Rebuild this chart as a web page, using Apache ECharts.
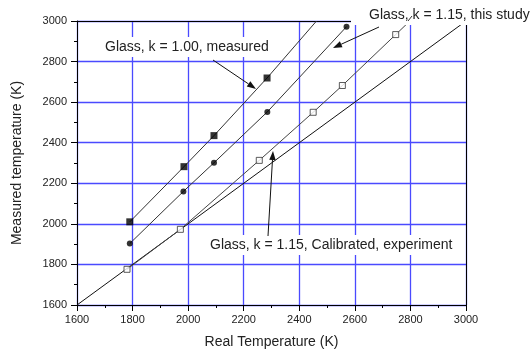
<!DOCTYPE html>
<html>
<head>
<meta charset="utf-8">
<script src="https://cdn.jsdelivr.net/npm/echarts@6/dist/echarts.min.js"></script>
<style>
  html, body { margin: 0; padding: 0; background: #fff; }
  #chart { width: 530px; height: 354px; }
</style>
</head>
<body>
<div id="chart"></div>
<script>
// 坐标轴范围
let axisMin = 1600;
let axisMax = 3000;
let axisStep = 200;

// Glass, k = 1.00, measured (实心方块)
let measuredX = [1790, 1985, 2093, 2284];
let measuredY = [2010, 2282, 2435, 2719];
let measuredLineX = [1790, 1985, 2093, 2284, 2462];
let measuredLineY = [2010, 2282, 2435, 2719, 3000];

// Glass, k = 1.15, this study (实心圆)
let studyX = [1790, 1983, 2093, 2285, 2570];
let studyY = [1903, 2160, 2301, 2552, 2972];

// Glass, k = 1.15, Calibrated, experiment (空心方块)
let calibX = [1780, 1972, 2256, 2450, 2555, 2747];
let calibY = [1776, 1973, 2313, 2550, 2682, 2933];
let calibLineX = [1780, 1972, 2256, 2450, 2555, 2747, 2798];
let calibLineY = [1776, 1973, 2313, 2550, 2682, 2933, 3000];

// y = x 参考线
let refX = [1600, 3000];
let refY = [1600, 3000];

function pairs(xs, ys) {
  return xs.map((x, i) => [x, ys[i]]);
}

// 箭头
function arrow(x1, y1, x2, y2) {
  let ang = Math.atan2(y2 - y1, x2 - x1);
  let len = 9, half = 3.2;
  let bx = x2 - len * Math.cos(ang), by = y2 - len * Math.sin(ang);
  let nx = -Math.sin(ang) * half, ny = Math.cos(ang) * half;
  return [
    {
      type: "line",
      z: 100,
      shape: { x1: x1, y1: y1, x2: bx, y2: by },
      style: { stroke: "#111", lineWidth: 1 },
    },
    {
      type: "polygon",
      z: 100,
      shape: { points: [[x2, y2], [bx + nx, by + ny], [bx - nx, by - ny]] },
      style: { fill: "#111" },
    },
  ];
}

function label(text, x, y) {
  return {
    type: "text",
    z: 99,
    x: x,
    y: y,
    style: {
      text: text,
      font: "14px 'Liberation Sans', Arial, sans-serif",
      fill: "#222",
      verticalAlign: "middle",
      backgroundColor: "#fff",
      padding: [3, 8, 3, 18],
    },
  };
}

let gridBlue = "#4a4aff";
let fontFamily = "'Liberation Sans', Arial, sans-serif";

let myChart = echarts.init(document.getElementById("chart"));

let baseAxis = {
  type: "value",
  min: axisMin,
  max: axisMax,
  interval: axisStep,
  axisLine: { show: true, lineStyle: { color: "#000", width: 1 } },
  axisTick: { show: true, length: 6, lineStyle: { color: "#000" } },
  minorTick: { show: true, splitNumber: 2, length: 3, lineStyle: { color: "#000" } },
  axisLabel: {
    color: "#222",
    fontSize: 11,
    fontFamily: fontFamily,
    formatter: (v) => String(v),
  },
  splitLine: {
    show: true,
    lineStyle: { color: gridBlue, width: 1.3 },
  },
  nameLocation: "middle",
  nameTextStyle: { color: "#222", fontSize: 14, fontFamily: fontFamily },
};

// 边框轴
let frameAxis = {
  type: "value",
  min: axisMin,
  max: axisMax,
  interval: axisStep,
  axisLine: { show: true, lineStyle: { color: "#000", width: 1 } },
  axisTick: { show: false },
  axisLabel: { show: false },
  splitLine: { show: false },
};

let graphics = [
  label("Glass, k = 1.00, measured", 87, 47),
  label("Glass, k = 1.15, this study", 351, 15),
  label("Glass, k = 1.15, Calibrated, experiment", 192, 245),
  {
    type: "line",
    z: 100,
    shape: { x1: 408, y1: 21, x2: 412, y2: 16 },
    style: { stroke: "#333", lineWidth: 1 },
  },
]
  .concat(arrow(213, 60, 256, 89))
  .concat(arrow(379, 27, 333, 48))
  .concat(arrow(268, 236, 273, 151));

myChart.setOption({
  animation: false,
  backgroundColor: "#fff",
  grid: { left: 77, right: 64, top: 21, bottom: 48 },
  xAxis: [
    Object.assign({}, baseAxis, {
      position: "bottom",
      name: "Real Temperature (K)",
      nameGap: 30,
      axisLabel: Object.assign({}, baseAxis.axisLabel, { margin: 9 }),
    }),
    Object.assign({}, frameAxis, { position: "top" }),
  ],
  yAxis: [
    Object.assign({}, baseAxis, {
      position: "left",
      name: "Measured temperature (K)",
      nameGap: 53,
      axisLabel: Object.assign({}, baseAxis.axisLabel, { margin: 10 }),
    }),
    Object.assign({}, frameAxis, { position: "right" }),
  ],
  series: [
    {
      type: "line",
      data: pairs(refX, refY),
      symbol: "none",
      lineStyle: { color: "#111", width: 1 },
      z: 3,
    },
    {
      type: "line",
      data: pairs(measuredLineX, measuredLineY),
      symbol: "none",
      lineStyle: { color: "#333", width: 1 },
      z: 3,
    },
    {
      type: "line",
      data: pairs(studyX, studyY),
      symbol: "none",
      lineStyle: { color: "#333", width: 1 },
      z: 3,
    },
    {
      type: "line",
      data: pairs(calibLineX, calibLineY),
      symbol: "none",
      lineStyle: { color: "#444", width: 1 },
      z: 3,
    },
    {
      type: "scatter",
      data: pairs(measuredX, measuredY),
      symbol: "rect",
      symbolSize: 7,
      itemStyle: { color: "#000" },
      z: 5,
    },
    {
      type: "scatter",
      data: pairs(studyX, studyY),
      symbol: "circle",
      symbolSize: 6,
      itemStyle: { color: "#000" },
      z: 5,
    },
    {
      type: "scatter",
      data: pairs(calibX, calibY),
      symbol: "rect",
      symbolSize: 6,
      itemStyle: { color: "#fff", borderColor: "#333", borderWidth: 1 },
      z: 5,
    },
  ],
  graphic: graphics,
});
</script>
</body>
</html>
